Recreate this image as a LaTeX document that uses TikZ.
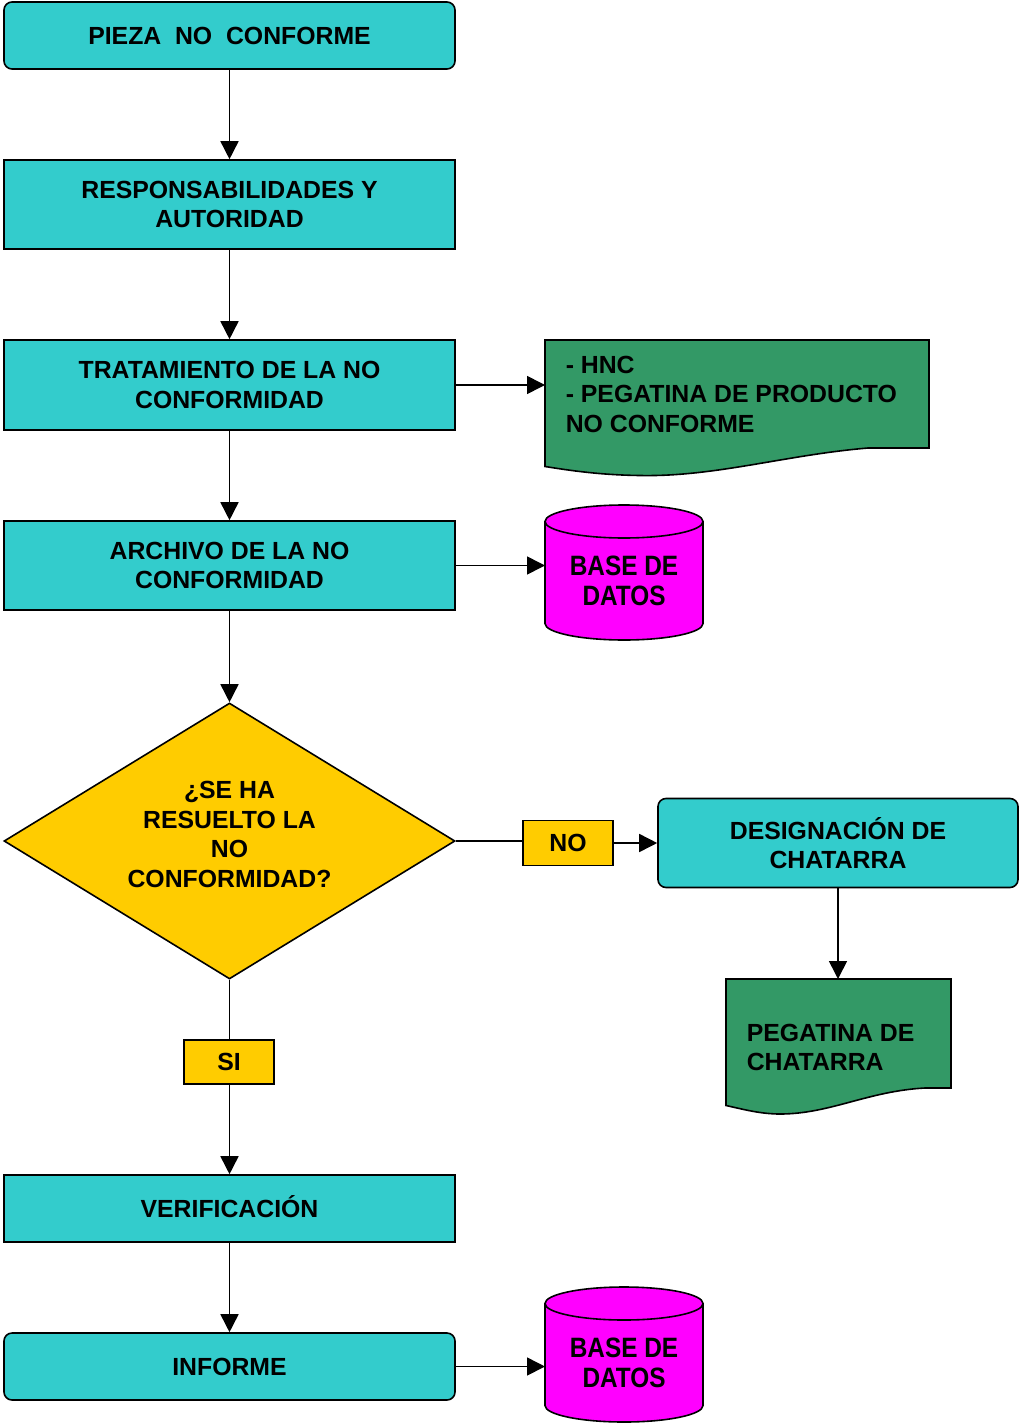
\documentclass[tikz,border=0pt]{standalone}
\usepackage{fontspec}
\usepackage{graphicx}
\setmainfont{Liberation Sans}
\usetikzlibrary{shapes.geometric,arrows.meta}
\definecolor{boxteal}{HTML}{33CCCC}
\definecolor{docgreen}{HTML}{339966}
\definecolor{dbmagenta}{HTML}{FF00FF}
\definecolor{tagyellow}{HTML}{FFCC00}
\begin{document}
\begin{tikzpicture}[x=1pt,y=-1pt,line width=1.6pt,
  txt/.style={font=\bfseries\fontsize{24.8}{29.5}\selectfont,align=center},
  oneline/.style={text height=17.7pt,text depth=0pt},
  dbtxt/.style={font=\bfseries\fontsize{28}{30}\selectfont,align=center},
  procbox/.style={txt,draw,fill=boxteal,minimum width=451pt,inner sep=0pt},
  roundbox/.style={procbox,rounded corners=8pt},
  tagbox/.style={txt,oneline,draw,fill=tagyellow,minimum width=90pt,minimum height=45pt,inner sep=0pt},
  ghost/.style={inner sep=0pt,outer sep=0pt},
  flow/.style={-{Triangle[length=18pt,width=18pt]}},
  dbarc/.style={x radius=79pt,y radius=16.5pt}]
\useasboundingbox (0,0) rectangle (1019,1423);

% main column
\node[roundbox,oneline,minimum height=67pt] (pieza) at (229.5,35.5) {PIEZA\ \ NO\ \ CONFORME};
\node[procbox,minimum height=89pt] (resp) at (229.5,204.5) {RESPONSABILIDADES Y\\AUTORIDAD};
\node[procbox,minimum height=90pt] (trat) at (229.5,385) {TRATAMIENTO DE LA NO\\CONFORMIDAD};
\node[procbox,minimum height=89pt] (arch) at (229.5,565.5) {ARCHIVO DE LA NO\\CONFORMIDAD};
\node[diamond,draw,fill=tagyellow,minimum width=451pt,minimum height=276pt,inner sep=0pt] (dia) at (229.5,841) {};
\node[txt] (diatxt) at (229.5,834.5) {¿SE HA\\RESUELTO LA\\NO\\CONFORMIDAD?};
\node[tagbox,minimum height=44pt] (si) at (229,1062) {SI};
\node[procbox,oneline,minimum height=67pt] (verif) at (229.5,1208.5) {VERIFICACIÓN};
\node[roundbox,oneline,minimum height=67pt] (inf) at (229.5,1366.5) {INFORME};

% branch on the right
\node[tagbox] (no) at (568,843) {NO};
\node[roundbox,minimum width=360pt,minimum height=89pt] (desig) at (838,843) {DESIGNACIÓN DE\\CHATARRA};

% document: HNC
\draw[fill=docgreen] (545,340) -- (929,340) -- (929,448) -- (868,448)
  .. controls (785,455) and (715,477) .. (640,475.5)
  .. controls (600,475) and (570,470.5) .. (545,466.5) -- cycle;
\node[ghost,minimum width=384pt,minimum height=90pt] (hnc) at (737,385) {};
\node[txt,align=left,anchor=north west,inner sep=0pt] (hnctxt) at (565,355)
  {- HNC\\- PEGATINA DE PRODUCTO\\NO CONFORME};

% document: pegatina de chatarra
\draw[fill=docgreen] (726,979) -- (951,979) -- (951,1088) -- (925,1088)
  .. controls (868,1091) and (830,1114) .. (780,1114)
  .. controls (760,1114) and (742,1109) .. (726,1105.5) -- cycle;
\node[ghost,minimum width=225pt,minimum height=109pt] (peg) at (838.5,1033.5) {};
\node[txt,align=left,anchor=north west,inner sep=0pt] (pegtxt) at (746,1023)
  {PEGATINA DE\\CHATARRA};

% database 1
\draw[fill=dbmagenta] (545,521.5) -- (545,623.5) arc[start angle=180,end angle=360,dbarc]
  -- (703,521.5) arc[start angle=0,end angle=180,dbarc] -- cycle;
\draw (545,521.5) arc[start angle=180,end angle=360,dbarc];
\node[ghost,minimum width=158pt,minimum height=135pt] (db1) at (624,572.5) {};
\node[dbtxt] (db1txt) at (624,581) {\scalebox{0.87}[1]{BASE DE}\\\scalebox{0.87}[1]{DATOS}};

% database 2
\draw[fill=dbmagenta] (545,1303.5) -- (545,1405.5) arc[start angle=180,end angle=360,dbarc]
  -- (703,1303.5) arc[start angle=0,end angle=180,dbarc] -- cycle;
\draw (545,1303.5) arc[start angle=180,end angle=360,dbarc];
\node[ghost,minimum width=158pt,minimum height=135pt] (db2) at (624,1354.5) {};
\node[dbtxt] (db2txt) at (624,1363) {\scalebox{0.87}[1]{BASE DE}\\\scalebox{0.87}[1]{DATOS}};

% connectors
\draw[flow] (pieza.south) -- (resp.north);
\draw[flow] (resp.south) -- (trat.north);
\draw[flow] (trat.south) -- (arch.north);
\draw[flow] (arch.south) -- (dia.north);
\draw[flow] (trat.east) -- (trat.east -| hnc.west);
\draw[flow] (arch.east) -- (arch.east -| db1.west);
\draw (dia.east) -- (dia.east -| no.west);
\draw[flow] (no.east) -- (desig.west);
\draw[flow] (desig.south) -- (desig.south |- peg.north);
\draw (dia.south) -- (dia.south |- si.north);
\draw[flow] (si.south -| verif.north) -- (verif.north);
\draw[flow] (verif.south) -- (inf.north);
\draw[flow] (inf.east) -- (inf.east -| db2.west);
\end{tikzpicture}
\end{document}
